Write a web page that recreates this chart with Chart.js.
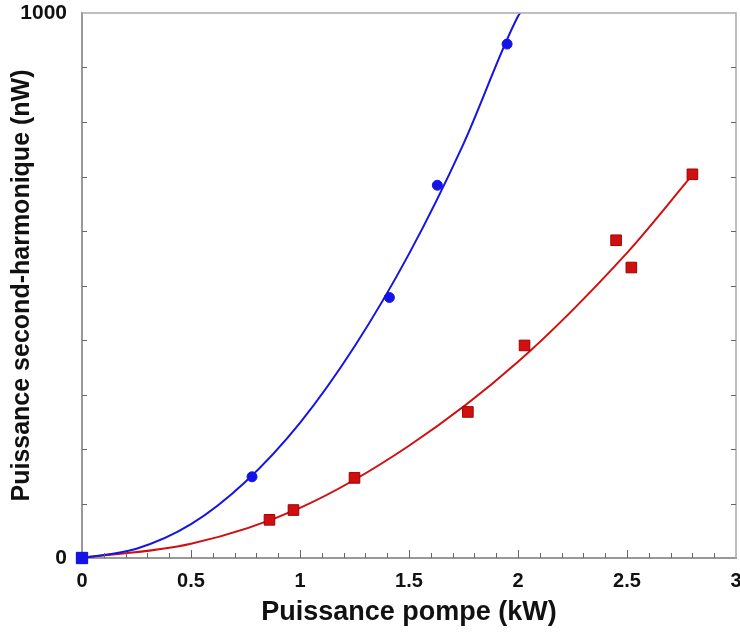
<!DOCTYPE html>
<html>
<head>
<meta charset="utf-8">
<script src="https://cdn.jsdelivr.net/npm/chart.js@4"></script>
<style>
  body { margin: 0; background: #fff; }
  canvas { display: block; }
</style>
</head>
<body>
<canvas id="chart" width="740" height="637"></canvas>
<script>
const bluePower = [0, 0.78, 1.41, 1.63, 1.95];
const blueSignal = [0, 149, 478, 684, 943];
const redPower = [0, 0.86, 0.97, 1.25, 1.77, 2.03, 2.45, 2.52, 2.8];
const redSignal = [0, 70, 88, 147, 268, 390, 583, 533, 704];

// fitted curves
const blueFitPower = [0, 0.25, 0.5, 0.75, 1, 1.25, 1.5, 1.75, 2.0, 2.01];
const blueFitSignal = [0, 17, 62, 140, 248, 388, 558, 760, 994, 1000];
const redFitPower = [0, 0.5, 1, 1.5, 2, 2.5, 2.8];
const redFitSignal = [0, 26, 92, 206, 360, 560, 703];

// axis ticks
const xTicks = [0, 0.5, 1, 1.5, 2, 2.5, 3];
const yLabels = { 0: '0', 1000: '1000' };

const BLUE = '#1414e6';
const RED = '#d01010';
const AXIS = '#999999';
const FONT = 'Liberation Sans, Arial, sans-serif';

function pairs(xs, ys) {
  return xs.map((x, i) => ({ x: x, y: ys[i] }));
}

// draws the top/right border and the small inward tick marks
const framePlugin = {
  id: 'frame',
  afterDraw(chart) {
    const ctx = chart.ctx;
    const a = chart.chartArea;
    const xs = chart.scales.x;
    const ys = chart.scales.y;
    ctx.save();
    ctx.strokeStyle = '#aaaaaa';
    ctx.lineWidth = 1.5;
    ctx.beginPath();
    ctx.moveTo(a.left, a.top);
    ctx.lineTo(a.right, a.top);
    ctx.lineTo(a.right, a.bottom);
    ctx.stroke();

    ctx.strokeStyle = '#666666';
    ctx.lineWidth = 1;
    ctx.beginPath();
    for (let v = 100; v < 1000; v += 100) {
      const py = Math.round(ys.getPixelForValue(v)) + 0.5;
      ctx.moveTo(a.left, py);
      ctx.lineTo(a.left + 5, py);
      ctx.moveTo(a.right, py);
      ctx.lineTo(a.right - 5, py);
    }
    for (let i = 1; i < 30; i++) {
      const px = Math.round(xs.getPixelForValue(i / 10)) + 0.5;
      const len = (i % 5 === 0) ? 8 : 5;
      ctx.moveTo(px, a.bottom);
      ctx.lineTo(px, a.bottom - len);
    }
    ctx.stroke();
    ctx.restore();
  }
};

new Chart(document.getElementById('chart'), {
  type: 'scatter',
  data: {
    datasets: [
      {
        label: 'blue points',
        data: pairs(bluePower, blueSignal),
        pointStyle: ['rect', 'circle', 'circle', 'circle', 'circle'],
        pointRadius: [8, 5, 5, 5, 5],
        backgroundColor: BLUE,
        borderColor: BLUE,
        clip: false,
        order: 0
      },
      {
        label: 'red points',
        data: pairs(redPower, redSignal),
        pointStyle: 'rect',
        pointRadius: 7.5,
        backgroundColor: RED,
        borderColor: '#a00000',
        borderWidth: 1,
        clip: false,
        order: 1
      },
      {
        label: 'blue fit',
        type: 'line',
        data: pairs(blueFitPower, blueFitSignal),
        borderColor: BLUE,
        borderWidth: 2,
        pointRadius: 0,
        cubicInterpolationMode: 'monotone',
        fill: false,
        order: 2
      },
      {
        label: 'red fit',
        type: 'line',
        data: pairs(redFitPower, redFitSignal),
        borderColor: RED,
        borderWidth: 2,
        pointRadius: 0,
        cubicInterpolationMode: 'monotone',
        fill: false,
        order: 3
      }
    ]
  },
  options: {
    responsive: false,
    animation: false,
    layout: { autoPadding: false, padding: { top: 13, right: 4, left: 0, bottom: 0 } },
    plugins: {
      legend: { display: false },
      tooltip: { enabled: false }
    },
    scales: {
      x: {
        type: 'linear',
        min: 0,
        max: 3,
        afterBuildTicks: (s) => { s.ticks = xTicks.map(v => ({ value: v })); },
        afterFit: (s) => { s.height = 79; s.paddingLeft = 0; s.paddingRight = 0; },
        grid: { display: false, drawTicks: false },
        border: { display: true, color: AXIS, width: 2 },
        ticks: {
          color: '#111',
          padding: 11,
          font: { family: FONT, size: 20, weight: 'bold' },
          callback: (v) => String(v)
        },
        title: {
          display: true,
          text: 'Puissance pompe (kW)',
          color: '#111',
          padding: { top: 0, bottom: 8 },
          font: { family: FONT, size: 27, weight: 'bold' }
        }
      },
      y: {
        type: 'linear',
        min: 0,
        max: 1000,
        afterBuildTicks: (s) => { s.ticks = [{ value: 0 }, { value: 1000 }]; },
        afterFit: (s) => { s.width = 82; s.paddingTop = 0; s.paddingBottom = 0; },
        grid: { display: false, drawTicks: false },
        border: { display: true, color: AXIS, width: 2 },
        ticks: {
          color: '#111',
          padding: 15,
          font: { family: FONT, size: 21, weight: 'bold' },
          callback: (v) => yLabels[v] || ''
        },
        title: {
          display: true,
          text: 'Puissance second-harmonique (nW)',
          color: '#111',
          padding: { top: 7, bottom: 0 },
          font: { family: FONT, size: 25, weight: 'bold' }
        }
      }
    }
  },
  plugins: [framePlugin]
});
</script>
</body>
</html>
